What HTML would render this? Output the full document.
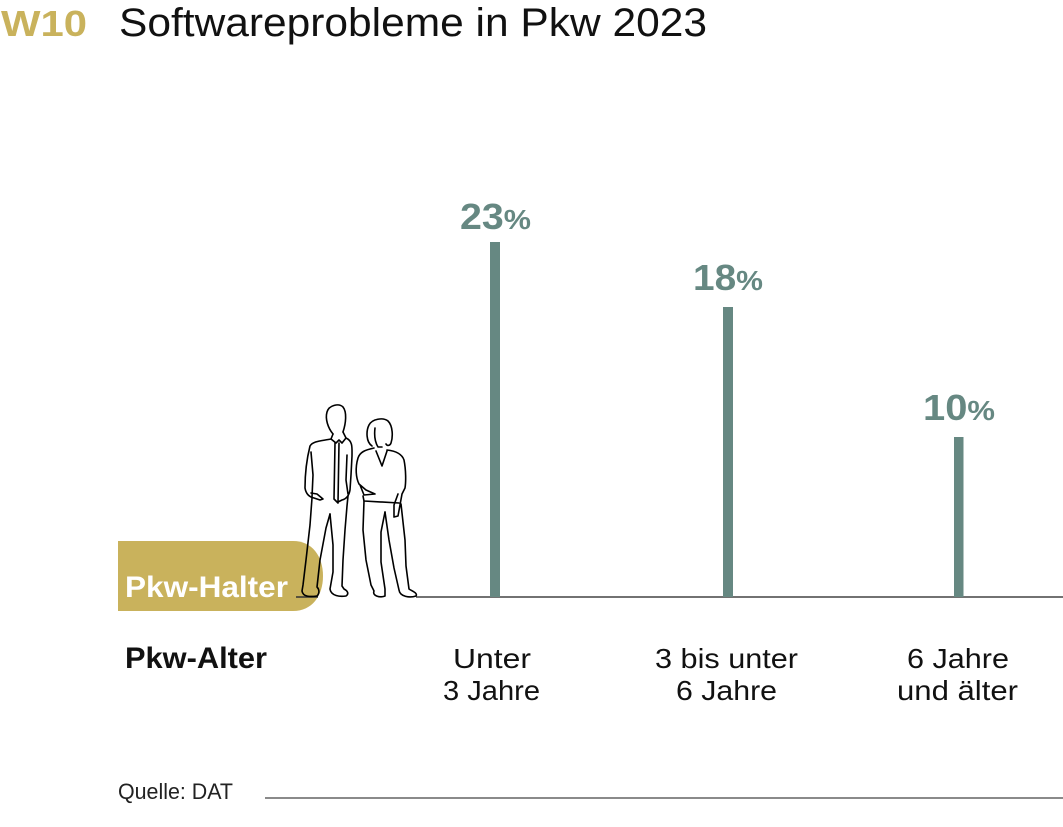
<!DOCTYPE html>
<html>
<head>
<meta charset="utf-8">
<style>
html,body{margin:0;padding:0;background:#fff;}
svg{display:block;}
text{font-family:"Liberation Sans",Arial,sans-serif;}
</style>
</head>
<body>
<svg width="1063" height="827" viewBox="0 0 1063 827" xmlns="http://www.w3.org/2000/svg">
  <!-- Title -->
  <text x="1" y="36" font-size="36" font-weight="bold" fill="#c9b25c" textLength="86" lengthAdjust="spacingAndGlyphs">W10</text>
  <text x="119" y="36" font-size="40" fill="#111" textLength="588" lengthAdjust="spacingAndGlyphs">Softwareprobleme in Pkw 2023</text>

  <!-- Gold pill -->
  <path d="M118,541 L293,541 C312,541 323,556 323,576 C323,596 312,611 293,611 L118,611 Z" fill="#c9b25c"/>
  <text x="125" y="597" font-size="30" font-weight="bold" fill="#fff" textLength="163" lengthAdjust="spacingAndGlyphs">Pkw-Halter</text>

  <!-- Baseline -->
  <line x1="296" y1="597" x2="318" y2="597" stroke="#333" stroke-width="1.6"/>
  <line x1="416" y1="597" x2="1063" y2="597" stroke="#444" stroke-width="1.6"/>

  <!-- People line drawing -->
  <g fill="none" stroke="#000" stroke-width="1.6" stroke-linejoin="round" stroke-linecap="round">
    <!-- man head -->
    <path d="M333,434 C328,428 325,419 327,412 C329,405 339,403 343,407 C347,412 346,423 343,432"/>
    <!-- man collar -->
    <path d="M333,434 L331,439 L336,443 L339,440 L342,443 L346,438 L343,432"/>
    <!-- man torso / arms -->
    <path d="M331,439 C321,441 313,441 310,446 C307,458 305,474 305,488 C306,494 309,497 314,498 L320,500 L323,499 L317,494 L311,493"/>
    <path d="M311,452 L313,475 L312,497"/>
    <path d="M346,438 C353,441 352,448 352,456 L351,475 L350,490 C349,496 346,499 342,500 L338,502"/>
    <path d="M347,455 L346,480 L348,494"/>
    <!-- tie -->
    <path d="M335,443 L334,499 L338,503 L339,443"/>
    <!-- man legs -->
    <path d="M312,498 L310,525 L306,560 L303,585 L302,591 C303,597 310,597 317,596 C320,593 319,589 317,587 L320,560 L326,528 L330,514"/>
    <path d="M330,514 L333,545 L333,572 L330,589 C331,596 340,597 346,596 C349,594 348,591 344,589 L342,586 L343,560 L345,530 L347,506 L348,496"/>
    <!-- woman head/hair -->
    <path d="M372,446 C366,442 366,431 369,425 C372,419 383,417 388,421 C393,426 393,437 391,443 C390,446 387,446 386,444"/>
    <path d="M375,428 C374,436 375,442 378,447 L382,447"/>
    <!-- woman body -->
    <path d="M374,448 C365,450 360,452 358,458 C355,468 356,478 359,484 L366,490 L375,494 L364,495 L360,485"/>
    <path d="M376,451 L382,466 L387,451"/>
    <path d="M387,450 C396,451 402,454 404,460 C406,470 406,482 405,488 L402,494 L400,505 L398,516 L394,517 L394,505 L398,494"/>
    <path d="M363,496 L364,501 L399,503"/>
    <!-- woman legs -->
    <path d="M364,501 L363,530 L366,560 L371,585 L374,591 C372,596 380,598 385,596 L385,589 L381,562 L381,532 L385,512"/>
    <path d="M385,512 L389,540 L394,568 L399,590 C400,597 410,598 416,596 C418,593 412,591 409,589 L406,566 L405,540 L401,504"/>
  </g>

  <!-- Bars -->
  <rect x="490" y="242" width="10" height="355" fill="#668882"/>
  <rect x="723" y="307" width="10" height="290" fill="#668882"/>
  <rect x="954" y="437" width="9.5" height="160" fill="#668882"/>

  <!-- Values -->
  <text x="460" y="229" font-weight="bold" fill="#668882" textLength="71" lengthAdjust="spacingAndGlyphs"><tspan font-size="36">23</tspan><tspan font-size="28">%</tspan></text>
  <text x="693" y="290" font-weight="bold" fill="#668882" textLength="70" lengthAdjust="spacingAndGlyphs"><tspan font-size="36">18</tspan><tspan font-size="28">%</tspan></text>
  <text x="923" y="420" font-weight="bold" fill="#668882" textLength="72" lengthAdjust="spacingAndGlyphs"><tspan font-size="36">10</tspan><tspan font-size="28">%</tspan></text>

  <!-- Axis labels -->
  <text x="125" y="668" font-size="30" font-weight="bold" fill="#111" textLength="142" lengthAdjust="spacingAndGlyphs">Pkw-Alter</text>

  <text x="453" y="668" font-size="28" fill="#111" textLength="78" lengthAdjust="spacingAndGlyphs">Unter</text>
  <text x="443" y="700" font-size="28" fill="#111" textLength="97" lengthAdjust="spacingAndGlyphs">3 Jahre</text>

  <text x="655" y="668" font-size="28" fill="#111" textLength="143" lengthAdjust="spacingAndGlyphs">3 bis unter</text>
  <text x="676" y="700" font-size="28" fill="#111" textLength="101" lengthAdjust="spacingAndGlyphs">6 Jahre</text>

  <text x="907" y="668" font-size="28" fill="#111" textLength="102" lengthAdjust="spacingAndGlyphs">6 Jahre</text>
  <text x="897" y="700" font-size="28" fill="#111" textLength="121" lengthAdjust="spacingAndGlyphs">und älter</text>

  <!-- Source -->
  <text x="118" y="799" font-size="22" fill="#222" textLength="115" lengthAdjust="spacingAndGlyphs">Quelle: DAT</text>
  <line x1="265" y1="798" x2="1063" y2="798" stroke="#8a8a8a" stroke-width="2"/>
</svg>
</body>
</html>
